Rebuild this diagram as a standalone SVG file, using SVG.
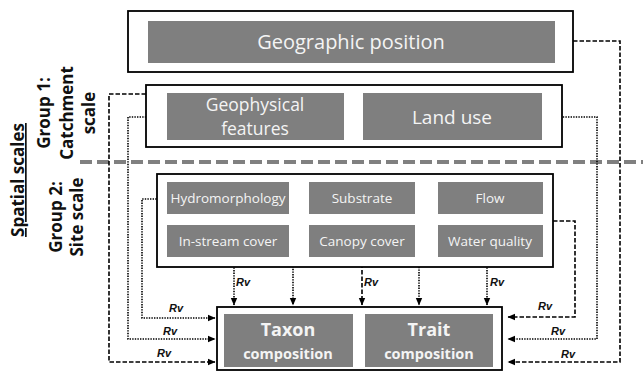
<svg xmlns="http://www.w3.org/2000/svg" width="643" height="372" viewBox="0 0 643 372">
<style>
.outer{fill:#fff;stroke:#000;stroke-width:1.8}
.box{fill:#7f7f7f}
.t{font-family:"Open Sans","Noto Sans",sans-serif;fill:#f4f4f4;text-anchor:middle}
.lbl{font-family:"Open Sans","Noto Sans",sans-serif;font-weight:bold;fill:#111;text-anchor:middle}
.rv{font-family:"Liberation Sans",Arial,sans-serif;font-weight:bold;font-style:italic;font-size:11px;fill:#111}
.dash{fill:none;stroke:#000;stroke-width:1.6;stroke-dasharray:4.5 2}
.dot{fill:none;stroke:#000;stroke-width:1.6;stroke-dasharray:1.4 1.2}
</style>
<defs>
<marker id="ah" markerUnits="userSpaceOnUse" markerWidth="8" markerHeight="8" viewBox="0 0 8 8" refX="7" refY="4" orient="auto">
<path d="M0,0.8 L7.5,4 L0,7.2 Z" fill="#000"/>
</marker>
</defs>
<rect width="643" height="372" fill="#fff"/>

<g id="labels">
<text class="lbl" font-size="17" text-decoration="underline" transform="translate(24,180) rotate(-90)">Spatial scales</text>
<text class="lbl" font-size="17" transform="translate(50,113) rotate(-90)">Group 1:</text>
<text class="lbl" font-size="17" transform="translate(73,113) rotate(-90)">Catchment</text>
<text class="lbl" font-size="17" transform="translate(95,113) rotate(-90)">scale</text>
<text class="lbl" font-size="17" transform="translate(62,217) rotate(-90)">Group 2:</text>
<text class="lbl" font-size="17" transform="translate(83,217) rotate(-90)">Site scale</text>
</g>

<g id="separator">
<line x1="80" y1="162" x2="643" y2="162" stroke="#808080" stroke-width="4" stroke-dasharray="12 5"/>
</g>

<g id="connectors">
<path class="dash" d="M146,94 H109 V362 H215" marker-end="url(#ah)"/>
<path class="dot" d="M167,117 H128 V339 H215" marker-end="url(#ah)"/>
<path class="dot" d="M167,199 H142 V318 H215" marker-end="url(#ah)"/>
<path class="dot" d="M234,257 V305" marker-end="url(#ah)"/>
<path class="dot" d="M309,199 H293 V305" marker-end="url(#ah)"/>
<path class="dash" d="M362,257 V305" marker-end="url(#ah)"/>
<path class="dot" d="M438,200 H419 V305" marker-end="url(#ah)"/>
<path class="dot" d="M487,257 V305" marker-end="url(#ah)"/>
<path class="dash" d="M553,221 H575 V317 H508" marker-end="url(#ah)"/>
<path class="dot" d="M542,117 H597 V339 H508" marker-end="url(#ah)"/>
<path class="dash" d="M573,41 H620 V362 H508" marker-end="url(#ah)"/>
<text class="rv" x="169" y="312">Rv</text>
<text class="rv" x="163" y="335">Rv</text>
<text class="rv" x="157" y="357">Rv</text>
<text class="rv" x="236" y="286">Rv</text>
<text class="rv" x="296" y="222">Rv</text>
<text class="rv" x="364" y="286">Rv</text>
<text class="rv" x="423" y="222">Rv</text>
<text class="rv" x="490" y="286">Rv</text>
<text class="rv" x="538" y="310">Rv</text>
<text class="rv" x="551" y="335">Rv</text>
<text class="rv" x="561" y="358">Rv</text>
</g>

<g id="geographic">
<rect class="outer" x="128" y="11" width="445" height="61"/>
<rect class="box" x="148" y="21" width="407" height="42"/>
<text class="t" x="351" y="49" font-size="20">Geographic position</text>
</g>

<g id="catchment">
<rect class="outer" x="146" y="85" width="416" height="62"/>
</g>
<g id="geophysical">
<rect class="box" x="167" y="93" width="177" height="47"/>
<text class="t" x="255" y="111" font-size="17.5">Geophysical</text>
<text class="t" x="255" y="135" font-size="17.5">features</text>
</g>
<g id="landuse">
<rect class="box" x="363" y="93" width="179" height="47"/>
<text class="t" x="452" y="124" font-size="19">Land use</text>
</g>

<g id="site">
<rect class="outer" x="157" y="174" width="396" height="93"/>
</g>
<g id="hydromorphology">
<rect class="box" x="167" y="182" width="122" height="32"/>
<text class="t" x="228" y="203" font-size="13.5">Hydromorphology</text>
</g>
<g id="substrate">
<rect class="box" x="309" y="182" width="106" height="32"/>
<text class="t" x="362" y="203" font-size="13.5">Substrate</text>
</g>
<g id="flow">
<rect class="box" x="438" y="182" width="105" height="32"/>
<text class="t" x="490" y="203" font-size="13.5">Flow</text>
</g>
<g id="instream">
<rect class="box" x="167" y="225" width="122" height="32"/>
<text class="t" x="228" y="246" font-size="13.5">In-stream cover</text>
</g>
<g id="canopy">
<rect class="box" x="309" y="225" width="106" height="32"/>
<text class="t" x="362" y="246" font-size="13.5">Canopy cover</text>
</g>
<g id="waterquality">
<rect class="box" x="438" y="225" width="105" height="32"/>
<text class="t" x="490" y="246" font-size="13.5">Water quality</text>
</g>

<g id="response">
<rect class="outer" x="217" y="307" width="285" height="63"/>
</g>
<g id="taxon">
<rect class="box" x="224" y="314" width="129" height="53"/>
<text class="t" x="288" y="336" font-size="18" font-weight="bold">Taxon</text>
<text class="t" x="288" y="359" font-size="14.5" font-weight="bold">composition</text>
</g>
<g id="trait">
<rect class="box" x="365" y="314" width="128" height="53"/>
<text class="t" x="429" y="336" font-size="18" font-weight="bold">Trait</text>
<text class="t" x="429" y="359" font-size="14.5" font-weight="bold">composition</text>
</g>
</svg>
